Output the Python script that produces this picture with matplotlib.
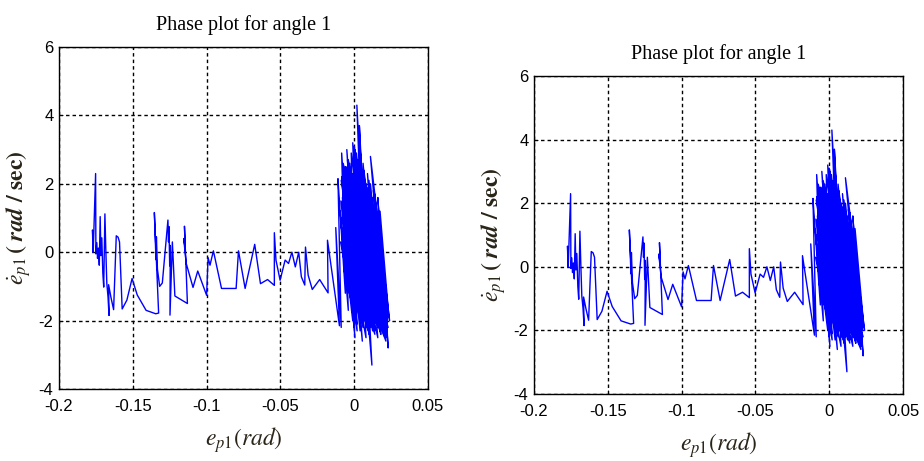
import matplotlib
matplotlib.use("Agg")
import matplotlib.pyplot as plt

plt.rcParams["mathtext.fontset"] = "stix"
plt.rcParams["axes.unicode_minus"] = False

# --- data: e_p1 (rad) vs de_p1/dt (rad/sec) ---
# transient part, from the start near -0.177 rad to the cluster around 0
ep_transient = [
    -0.1770, -0.1773, -0.1768, -0.1757, -0.1752, -0.1750, -0.1744, -0.1739,
    -0.1733, -0.1727, -0.1721, -0.1716, -0.1710, -0.1703, -0.1697, -0.1689,
    -0.1683, -0.1676, -0.1668, -0.1661, -0.1664, -0.1648, -0.1630, -0.1612,
    -0.1600, -0.1590, -0.1572, -0.1540, -0.1505, -0.1470, -0.1410, -0.1345,
    -0.1325, -0.1354, -0.1348, -0.1352, -0.1343, -0.1340, -0.1333, -0.1318,
    -0.1300, -0.1262, -0.1258, -0.1255, -0.1250, -0.1246, -0.1248, -0.1232,
    -0.1215, -0.1130, -0.1150, -0.1145, -0.1155, -0.1138, -0.1092, -0.1060,
    -0.1000, -0.0990, -0.0977, -0.0954, -0.0899, -0.0800, -0.0784, -0.0739,
    -0.0674, -0.0635, -0.0587, -0.0541, -0.0541, -0.0536, -0.0530, -0.0502,
    -0.0468, -0.0445, -0.0422, -0.0399, -0.0376, -0.0358, -0.0335, -0.0330,
    -0.0312, -0.0284, -0.0234, -0.0177, -0.0181, -0.0100, -0.0125, -0.0088,
    -0.0110,
]
dep_transient = [
    0.00, 0.65, 0.02, 1.60, 2.30, -0.05, 0.28, -0.18,
    0.12, -0.38, 1.04, -0.10, 0.42, -0.62, -1.02, 1.12,
    0.10, -0.92, -1.30, -1.85, -0.95, -1.32, -1.68, 0.48,
    0.44, 0.30, -1.66, -1.40, -0.77, -1.25, -1.70, -1.80,
    -1.78, 1.16, 0.40, 0.90, -0.22, 0.45, -0.50, -1.00,
    -0.90, 0.94, 0.30, 0.75, -0.40, 0.20, -1.84, 0.30,
    -1.28, -1.50, 0.76, 0.10, 0.40, -0.33, -1.03, -0.55,
    -1.26, -0.16, -0.38, 0.04, -1.06, -1.06, 0.04, -1.06,
    0.23, -0.92, -0.80, -0.97, 0.57, 0.20, -0.23, -0.82,
    -0.23, -0.33, 0.00, -0.43, 0.00, -0.72, -0.96, 0.15,
    -0.67, -1.09, -0.80, -1.19, 0.35, -2.15, 0.72, -2.20,
    2.15,
]

# steady-state chattering around zero error
ep_cluster = [
    -0.0105, -0.0060, -0.0085, -0.0010, -0.0095, -0.0040, -0.0070, 0.0005,
    -0.0080, 0.0030, -0.0050, 0.0020, -0.0090, 0.0010, -0.0030, 0.0060,
    -0.0060, 0.0040, -0.0010, 0.0080, -0.0075, 0.0050, 0.0000, 0.0100,
    -0.0040, 0.0070, 0.0018, 0.0065, 0.0035, 0.0120, 0.0010, 0.0110,
    -0.0025, 0.0085, 0.0040, 0.0140, 0.0020, 0.0130, 0.0060, 0.0160,
    0.0090, 0.0180, 0.0110, 0.0200, 0.0140, 0.0215, 0.0160, 0.0230,
    0.0175, 0.0235, 0.0120, 0.0205, 0.0080, 0.0170, 0.0050, 0.0150,
    -0.0065, 0.0025, -0.0085, -0.0005, -0.0045, 0.0045, -0.0020, 0.0090,
    0.0015, 0.0125, 0.0045, 0.0145, 0.0070, 0.0190, 0.0100, 0.0210,
    0.0130, 0.0225, 0.0150, 0.0200, -0.0070, 0.0035, -0.0035, 0.0075,
    0.0005, 0.0115, 0.0030, 0.0135, 0.0065, 0.0175, 0.0095, 0.0195,
    0.0125, 0.0220, 0.0155, 0.0185, -0.0090, 0.0000, -0.0055, 0.0055,
    -0.0015, 0.0095, 0.0025, 0.0155, 0.0055, 0.0165, 0.0085, 0.0215,
    0.0115, 0.0190, -0.0080, 0.0015, -0.0045, 0.0065, -0.0005, 0.0105,
    0.0035, 0.0165, 0.0075, 0.0200, 0.0105, 0.0225, 0.0145, 0.0180,
    -0.0060, 0.0050, -0.0020, 0.0120, 0.0040, 0.0155, 0.0090, 0.0205,
    0.0130, 0.0210, 0.0000, 0.0070, 0.0050, 0.0240, 0.0110, 0.0195,
    -0.0088, 0.0060, -0.0075, 0.0095, -0.0092, 0.0020, -0.0060, 0.0115,
    -0.0080, 0.0045, -0.0040, 0.0140, -0.0070, 0.0005, -0.0020, 0.0105,
    -0.0085, 0.0150, 0.0005, 0.0170, -0.0050, 0.0080, 0.0025, 0.0190,
    -0.0065, 0.0125, 0.0040, 0.0200, -0.0030, 0.0175, 0.0015, 0.0210,
    -0.0055, 0.0135, 0.0050, 0.0180, -0.0010, 0.0160, 0.0065, 0.0195,
    -0.0045, 0.0090, 0.0080, 0.0220, 0.0010, 0.0185, 0.0100, 0.0205,
    -0.0015, 0.0120, 0.0120, 0.0190, 0.0030, 0.0170, 0.0145, 0.0200,
    -0.0070, 0.0060, 0.0060, 0.0215, -0.0035, 0.0110, 0.0020, 0.0155,
    -0.0060, 0.0100, 0.0085, 0.0200, -0.0025, 0.0140, 0.0045, 0.0180,
    -0.0075, 0.0030, 0.0070, 0.0230, -0.0040, 0.0060, 0.0000, 0.0130,
    0.0095, 0.0180, -0.0050, 0.0075, 0.0035, 0.0160, 0.0110, 0.0200,
    -0.0020, 0.0080, 0.0055, 0.0170, 0.0135, 0.0225, -0.0060, 0.0050,
    0.0015, 0.0140, 0.0100, 0.0185,
]
dep_cluster = [
    1.80, -1.20, 2.90, -2.00, 1.20, -1.70, 2.40, -2.50,
    1.60, -1.80, 3.00, -2.10, 0.80, -1.40, 2.60, -2.20,
    1.90, -2.30, 3.20, -2.00, 1.00, -1.60, 2.80, -2.40,
    2.20, -1.90, 4.30, 0.50, 3.70, -3.30, 2.40, -2.10,
    1.50, -2.20, 3.00, -2.30, 1.80, -1.90, 2.60, -2.20,
    2.30, -2.40, 2.00, -2.00, 1.70, -2.30, 1.60, -2.80,
    1.20, -1.90, 1.40, -2.45, 2.00, -1.60, 2.20, -1.80,
    1.30, -0.90, 2.20, -1.10, 2.70, -1.50, 2.10, -1.70,
    2.90, -2.00, 2.50, -1.80, 1.90, -2.10, 1.60, -2.20,
    1.80, -2.00, 1.30, -1.40, 2.00, -1.30, 1.40, -1.90,
    2.30, -1.70, 1.70, -2.10, 2.10, -1.90, 1.50, -2.30,
    1.10, -2.20, 0.90, -1.00, 1.50, -2.20, 2.50, -2.60,
    1.80, -1.60, 2.60, -2.00, 1.40, -1.70, 1.90, -2.50,
    1.20, -1.50, 0.60, -1.80, 1.70, -1.30, 1.20, -2.00,
    2.00, -2.10, 1.00, -2.40, 1.70, -2.00, 0.80, -1.20,
    0.40, -1.10, 0.90, -1.60, 0.70, -1.40, 1.20, -1.80,
    0.50, -2.10, 3.10, -0.60, 1.10, -2.00, 2.80, -1.50,
    2.10, -2.15, 1.50, -2.30, 0.30, -2.30, 2.50, -1.80,
    0.00, -1.90, 2.70, -2.00, -0.50, -1.90, 2.90, -1.20,
    1.00, -2.10, 3.00, -1.90, 0.50, -2.50, 2.70, -2.20,
    1.80, -2.30, 2.40, -1.50, 1.20, -2.30, 2.20, -1.90,
    2.00, -1.50, 1.80, -2.40, 0.80, -2.50, 2.40, -1.80,
    1.60, -1.70, 1.50, -2.10, 1.00, -1.20, 1.90, -1.20,
    2.30, -2.00, 1.60, -0.60, 0.40, -1.00, 1.40, -0.80,
    2.20, -1.30, 1.00, -2.60, 0.20, -2.20, 1.50, -0.50,
    1.10, -0.80, 0.80, -2.30, -0.30, -2.40, 0.10, -1.70,
    2.60, -0.40, 0.30, -2.20, -1.00, -2.00, 1.70, -1.20,
    1.20, -1.00, 0.90, -1.00, 2.00, -1.40, 0.60, -1.90,
    1.80, -0.30, 1.40, -2.20, 1.00, -2.40, 0.40, -1.10,
    0.60, -1.70, 2.10, -2.00,
]

ep = ep_transient + ep_cluster
dep = dep_transient + dep_cluster

x_ticks = [-0.2, -0.15, -0.1, -0.05, 0, 0.05]
x_labels = ["-0.2", "-0.15", "-0.1", "-0.05", "0", "0.05"]
y_ticks = [-4, -2, 0, 2, 4, 6]
y_labels = ["-4", "-2", "0", "2", "4", "6"]

title = "Phase plot for angle 1"
xlabel = r"$e_{p1}(rad)$"
ylabel = r"$\dot{e}_{p1}\,\mathbf{(}\ \mathbfit{rad}\ \mathbf{/\ sec)}$"

tick_font = ["Liberation Sans Narrow", "Liberation Sans", "DejaVu Sans"]
serif = ["Liberation Serif", "DejaVu Serif"]

fig = plt.figure(figsize=(9.24, 4.61), dpi=100)
# two copies of the same figure, side by side
rects = [
    [59 / 924, 1 - 389 / 461, 369 / 924, 342 / 461],
    [534 / 924, 1 - 394 / 461, 369 / 924, 318 / 461],
]

for r in rects:
    ax = fig.add_axes(r)
    ax.plot(ep, dep, color="#0000ff", lw=1.0)
    ax.set_xlim(-0.2, 0.05)
    ax.set_ylim(-4, 6)
    ax.set_xticks(x_ticks)
    ax.set_xticklabels(x_labels, family=tick_font, fontsize=12)
    ax.set_yticks(y_ticks)
    ax.set_yticklabels(y_labels, family=tick_font, fontsize=12)
    ax.tick_params(direction="in", length=3, width=0.6)
    ax.tick_params(axis="x", pad=7)
    ax.tick_params(axis="y", pad=4)
    ax.grid(True, color="black", linestyle=(0, (2.5, 2.2)), linewidth=1.0)
    for s in ax.spines.values():
        s.set_linewidth(1.0)
    ax.set_title(title, family=serif, fontsize=14.5, pad=12)
    ax.set_xlabel(xlabel, fontsize=17, color="#2a2418", labelpad=8)
    ax.set_ylabel(ylabel, fontsize=17, color="#2a2418", labelpad=4)

plt.savefig("out.png", dpi=100)
